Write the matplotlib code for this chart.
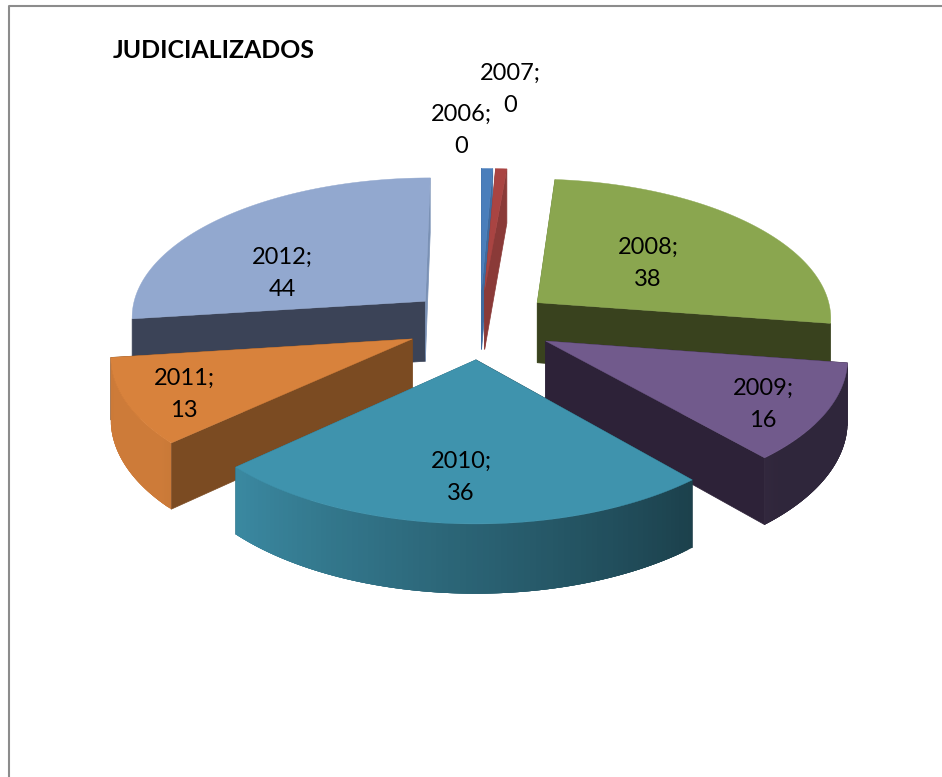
import numpy as np
import matplotlib
matplotlib.use('Agg')
import matplotlib.pyplot as plt
from matplotlib.colors import to_rgb

plt.rcParams['font.family'] = ['Lato', 'DejaVu Sans']

years = ['2006', '2007', '2008', '2009', '2010', '2011', '2012']
# printed labels, the two zero years still get a sliver in the original
label_values = [0, 0, 38, 16, 36, 13, 44]
slice_sizes = [1, 1, 38, 16, 36, 13, 44]

top_colors = ['#4a7ebb', '#a94442', '#8aa64f', '#715a8c', '#3f93ad', '#d8823c', '#92a8cf']
# radial side faces, first edge and last edge of each slice
face_a = ['#3f6a9e', '#8a3a38', '#6f8542', '#2d2238', '#1b3c47', '#7b4b22', '#3b4357']
face_b = ['#3f6a9e', '#8a3a38', '#39421e', '#2d2238', '#2d6a7c', '#7b4b22', '#7a91b5']

label_pos = {'2006': (461, 130), '2007': (510, 89), '2008': (648, 263), '2009': (763, 404),
             '2010': (461, 477), '2011': (184, 394), '2012': (282, 273)}

# projection of the pie, in pixels
CX, CY = 480, 324
RX, RY = 296, 140
PERSP = 0.1
EXPLODE = 0.25
HEIGHT = 61

# how far the 3d view of the original pulls the slice edges round, degrees
skew_at = [0, 97, 135, 222, 254, 360]
skew_by = [0, 2, 3.5, 5, 9, 0]


def project(x, y, drop=0.0):
    s = 1.0 / (1.0 + PERSP * y)
    return CX + RX * x * s, CY - RY * y * s + drop * s


def wall_shade(theta):
    return np.clip(0.42 + (theta - 135) / 90 * 0.5, 0.42, 0.95)


def draw_slice(ax, i, t0, t1):
    mid = np.radians((t0 + t1) / 2)
    ox, oy = EXPLODE * np.sin(mid), EXPLODE * np.cos(mid)
    angs = np.linspace(t0, t1, 90)
    rad = np.radians(angs)
    ex, ey = ox + np.sin(rad), oy + np.cos(rad)

    # radial faces first, top and outer wall cover whatever faces away
    for end, col in ((0, face_a[i]), (-1, face_b[i])):
        a = project(ox, oy)
        b = project(ex[end], ey[end])
        c = project(ex[end], ey[end], HEIGHT)
        d = project(ox, oy, HEIGHT)
        ax.fill([a[0], b[0], c[0], d[0]], [a[1], b[1], c[1], d[1]], color=col, lw=0.5)

    # outer wall, strips overlap so no seams show through
    base = np.array(to_rgb(top_colors[i]))
    for j in range(len(angs) - 1):
        if np.cos(rad[j]) > -0.15:
            continue
        k = min(j + 4, len(angs) - 1)
        if np.cos(rad[k]) > -0.15:
            k = j + 1
        a = project(ex[j:k + 1], ey[j:k + 1])
        c = project(ex[j:k + 1][::-1], ey[j:k + 1][::-1], HEIGHT)
        col = base * wall_shade(angs[j])
        ax.fill(np.r_[a[0], c[0]], np.r_[a[1], c[1]], color=col, lw=0)

    px, py = project(np.r_[ox, ex], np.r_[oy, ey])
    ax.fill(px, py, color=top_colors[i], lw=0.3)


def main():
    fig = plt.figure(figsize=(9.42, 7.77), dpi=100)
    ax = fig.add_axes([0, 0, 1, 1])
    ax.set_xlim(0, 942)
    ax.set_ylim(777, 0)
    ax.axis('off')

    # chart frame, runs off the right and bottom of the crop
    ax.plot([9, 9, 942], [777, 6, 6], color='#8c8c8c', lw=1.5)

    edges = np.r_[0, np.cumsum(slice_sizes)] / np.sum(slice_sizes) * 360
    edges = edges + np.interp(edges, skew_at, skew_by)
    mids = (edges[:-1] + edges[1:]) / 2

    # painter's order, back slices first
    order = np.argsort(-np.cos(np.radians(mids)), kind='stable')
    for i in order:
        draw_slice(ax, i, edges[i], edges[i + 1])

    for yr, val in zip(years, label_values):
        x, y = label_pos[yr]
        ax.text(x, y, '%s;\n%d' % (yr, val), ha='center', va='center', fontsize=17,
                linespacing=1.65, color='black', zorder=50)

    ax.text(113, 51, 'JUDICIALIZADOS', ha='left', va='center', fontsize=17.9,
            fontweight='bold', color='black', zorder=50)

    plt.savefig('out.png', dpi=100)
    plt.close()


if __name__ == '__main__':
    main()
